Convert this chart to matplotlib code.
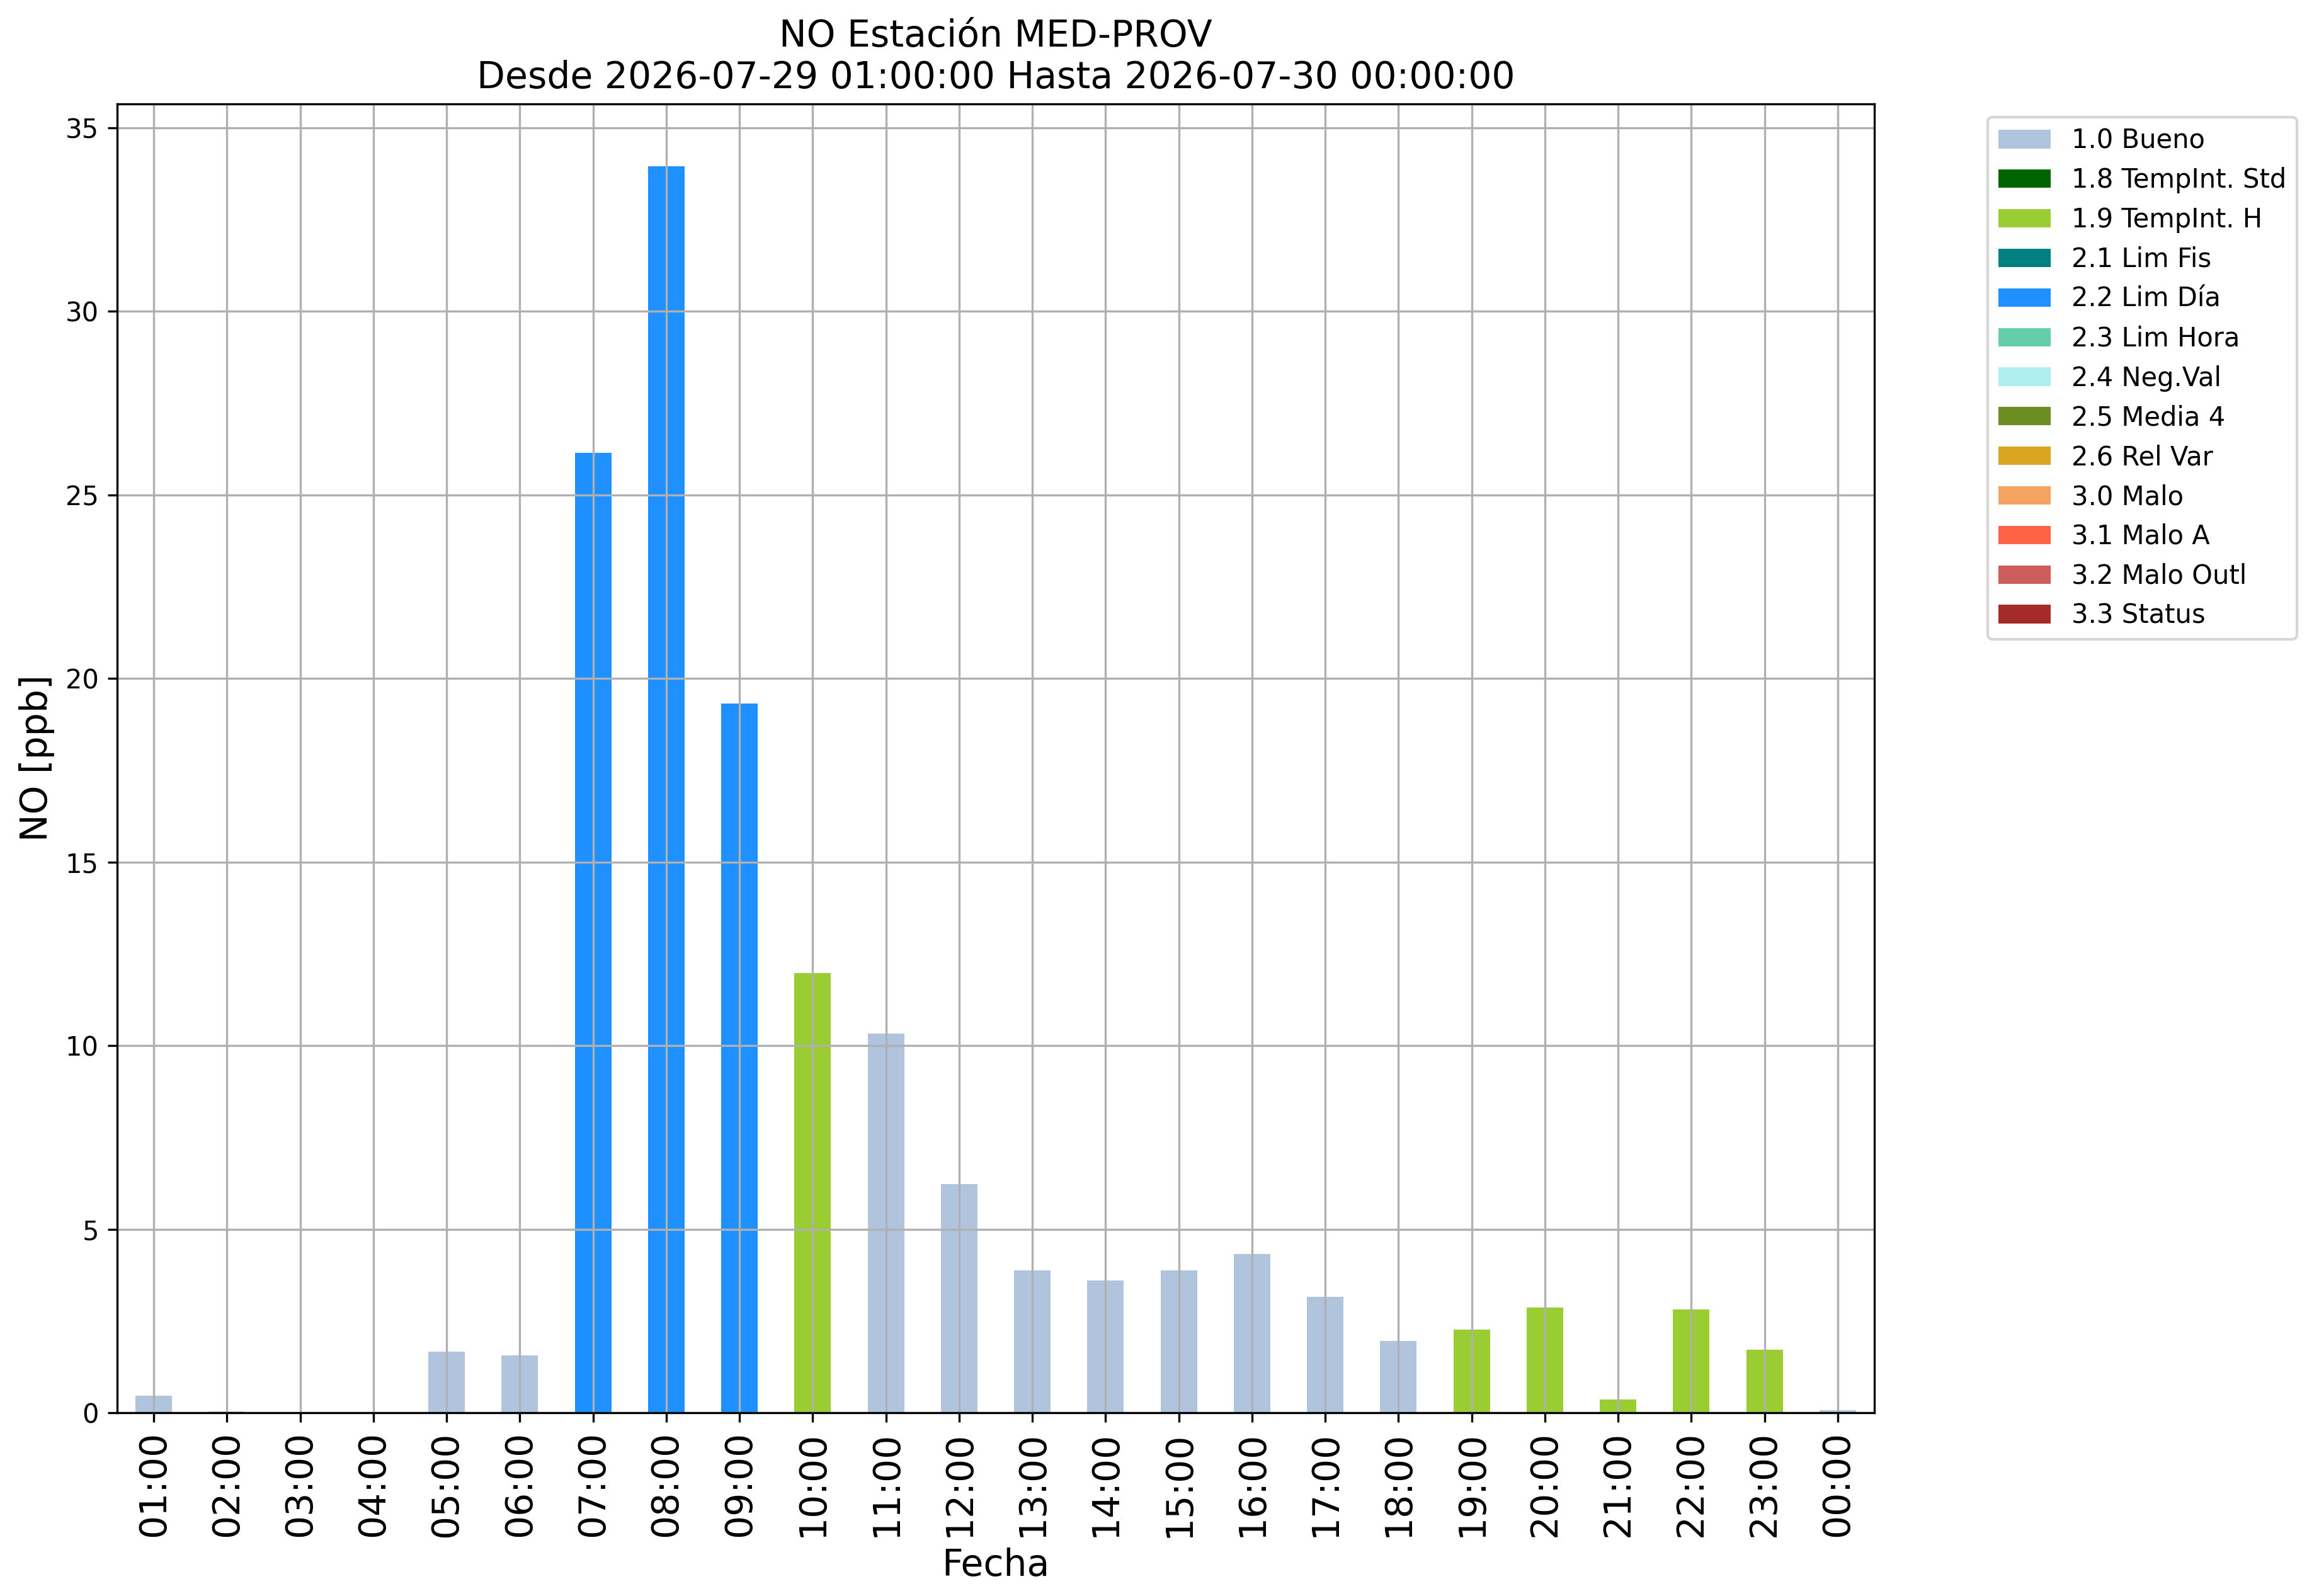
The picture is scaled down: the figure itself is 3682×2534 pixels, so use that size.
import matplotlib
matplotlib.use("Agg")
import matplotlib.pyplot as plt
import numpy as np

hours = ["01:00", "02:00", "03:00", "04:00", "05:00", "06:00", "07:00", "08:00",
         "09:00", "10:00", "11:00", "12:00", "13:00", "14:00", "15:00", "16:00",
         "17:00", "18:00", "19:00", "20:00", "21:00", "22:00", "23:00", "00:00"]
values = [0.46, 0.03, 0.0, 0.0, 1.67, 1.56, 26.15, 33.95,
          19.31, 11.98, 10.32, 6.22, 3.87, 3.61, 3.88, 4.33,
          3.16, 1.96, 2.27, 2.87, 0.36, 2.82, 1.72, 0.07]
flags = ["1.0", "1.0", "1.0", "1.0", "1.0", "1.0", "2.2", "2.2",
         "2.2", "1.9", "1.0", "1.0", "1.0", "1.0", "1.0", "1.0",
         "1.0", "1.0", "1.9", "1.9", "1.9", "1.9", "1.9", "1.0"]

flag_codes = ["1.0", "1.8", "1.9", "2.1", "2.2", "2.3", "2.4", "2.5", "2.6",
              "3.0", "3.1", "3.2", "3.3"]
flag_names = ["1.0 Bueno", "1.8 TempInt. Std", "1.9 TempInt. H", "2.1 Lim Fis",
              "2.2 Lim Día", "2.3 Lim Hora", "2.4 Neg.Val", "2.5 Media 4",
              "2.6 Rel Var", "3.0 Malo", "3.1 Malo A", "3.2 Malo Outl", "3.3 Status"]
flag_colors = ["lightsteelblue", "darkgreen", "yellowgreen", "teal", "dodgerblue",
               "mediumaquamarine", "paleturquoise", "olivedrab", "goldenrod",
               "sandybrown", "tomato", "indianred", "brown"]

fig = plt.figure(figsize=(3682 / 300, 2534 / 300), dpi=300)
ax = fig.add_axes([186 / 3682, 1 - 2243 / 2534, (2976 - 186) / 3682, (2243 - 165) / 2534])

x = np.arange(len(hours))
bottom = np.zeros(len(hours))
for code, name, color in zip(flag_codes, flag_names, flag_colors):
    h = np.array([v if f == code else 0.0 for v, f in zip(values, flags)])
    ax.bar(x, h, width=0.5, bottom=bottom, color=color, label=name)
    bottom += h

ax.set_xlim(-0.5, len(hours) - 0.5)
ax.set_ylim(0, max(values) * 1.05)
ax.set_xticks(x)
ax.set_xticklabels(hours, rotation=90, fontsize=14)
ax.tick_params(axis="y", labelsize=10)
ax.grid(True)
ax.set_xlabel("Fecha", fontsize=14)
ax.set_ylabel("NO [ppb]", fontsize=14)
ax.set_title("NO Estación MED-PROV\nDesde 2026-07-29 01:00:00 Hasta 2026-07-30 00:00:00",
             fontsize=14)
ax.legend(loc="upper left", bbox_to_anchor=(1.057, 1.0), fontsize=10)

fig.savefig("out.png", dpi=300)
